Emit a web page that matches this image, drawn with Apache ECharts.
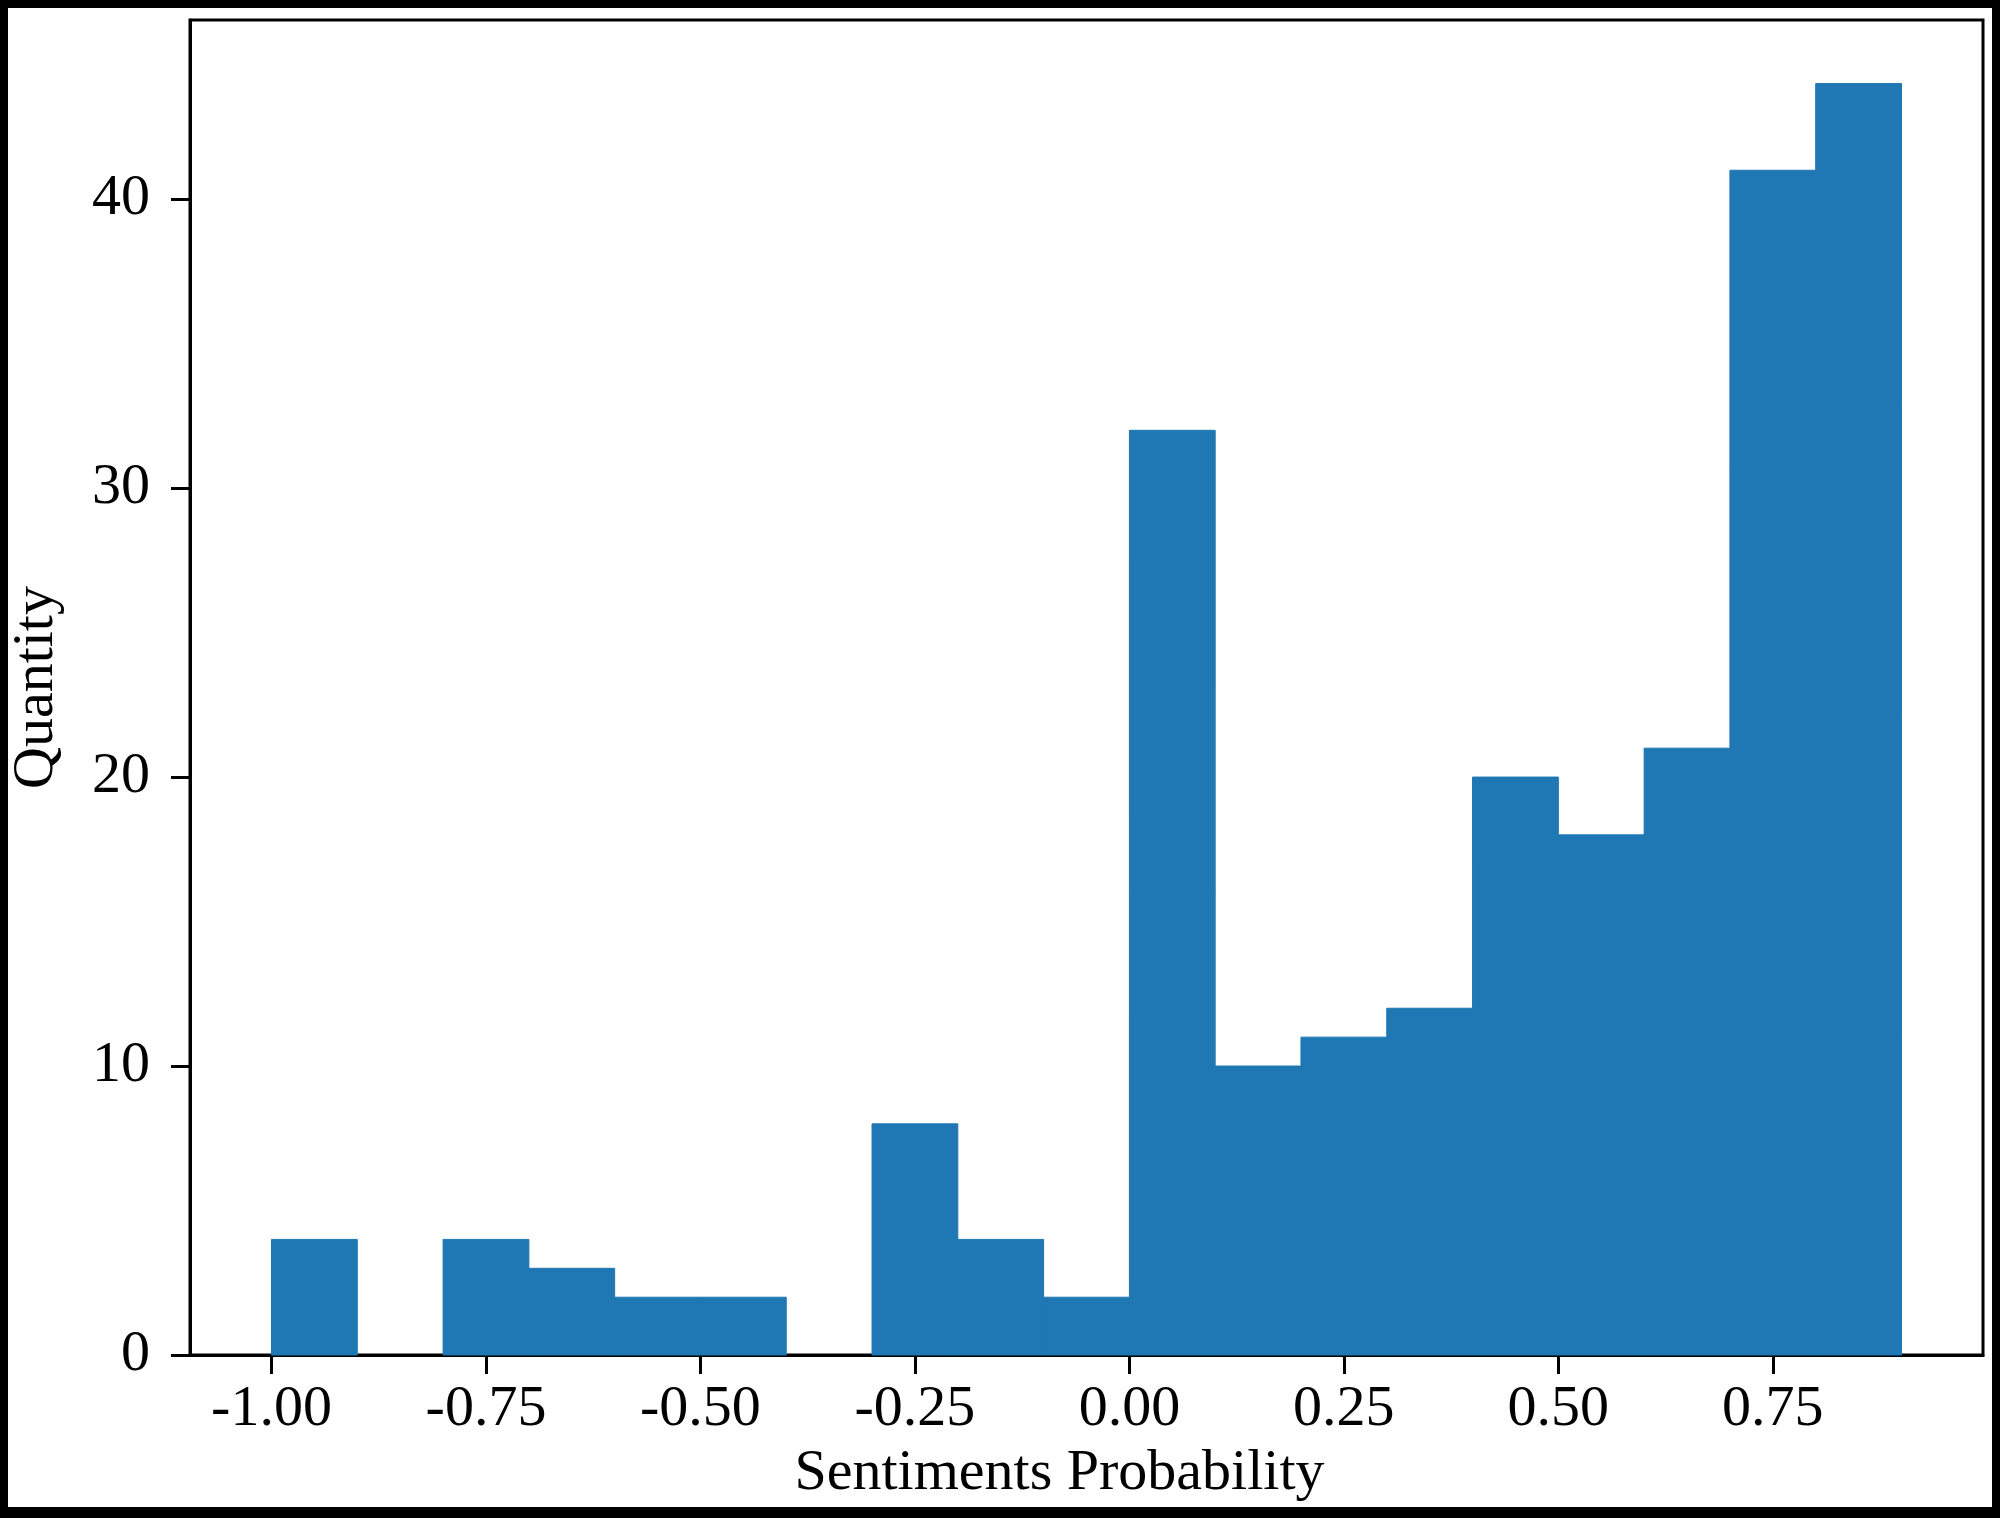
<!DOCTYPE html>
<html>
<head>
<meta charset="utf-8">
<script src="https://cdn.jsdelivr.net/npm/echarts@6/dist/echarts.min.js"></script>
<style>
  html, body { margin: 0; padding: 0; background: #fff; }
  #chart { width: 2000px; height: 1518px; }
</style>
</head>
<body>
<div id="chart"></div>
<script>
// histogram bins (width 0.1) and counts
var binEdges = [-1.0, -0.9, -0.8, -0.7, -0.6, -0.5, -0.4, -0.3, -0.2, -0.1,
  0.0, 0.1, 0.2, 0.3, 0.4, 0.5, 0.6, 0.7, 0.8, 0.9];
var counts = [4, 0, 4, 3, 2, 2, 0, 8, 4, 2, 32, 10, 11, 12, 20, 18, 21, 41, 44];
var xTicks = [-1.0, -0.75, -0.5, -0.25, 0.0, 0.25, 0.5, 0.75];
var yTicks = [0, 10, 20, 30, 40];

var font = "Liberation Serif";
var barColor = "#1f77b4";

// bin rows: [start, end, count]
var bins = counts.map(function (c, i) {
  return [binEdges[i], binEdges[i + 1], c];
});

var chart = echarts.init(document.getElementById("chart"));

var option = {
  animation: false,
  backgroundColor: "#fff",
  grid: {
    left: 187,
    right: 17,
    top: 20,
    bottom: 163,
    show: true,
    borderColor: "#000",
    borderWidth: 3,
    backgroundColor: "transparent"
  },
  xAxis: {
    type: "value",
    min: -1.095,
    max: 0.995,
    name: "Sentiments Probability",
    nameLocation: "middle",
    nameGap: 90,
    nameTextStyle: {
      fontFamily: font,
      fontSize: 58,
      color: "#000",
      padding: [0, 54, 0, 0]
    },
    axisLine: { show: true, onZero: false, lineStyle: { color: "#000", width: 3 } },
    axisTick: {
      show: true,
      length: 19,
      customValues: xTicks,
      lineStyle: { color: "#000", width: 3 }
    },
    axisLabel: {
      customValues: xTicks,
      margin: 26,
      fontFamily: font,
      fontSize: 58,
      color: "#000",
      formatter: function (v) { return v.toFixed(2); }
    },
    splitLine: { show: false }
  },
  yAxis: {
    type: "value",
    min: 0,
    max: 46.2,
    name: "Quantity",
    nameLocation: "middle",
    nameGap: 124,
    nameTextStyle: {
      fontFamily: font,
      fontSize: 58,
      color: "#000"
    },
    axisLine: { show: true, onZero: false, lineStyle: { color: "#000", width: 3 } },
    axisTick: {
      show: true,
      length: 19,
      customValues: yTicks,
      lineStyle: { color: "#000", width: 3 }
    },
    axisLabel: {
      customValues: yTicks,
      margin: 40,
      fontFamily: font,
      fontSize: 58,
      color: "#000"
    },
    splitLine: { show: false }
  },
  series: [
    {
      type: "custom",
      data: bins,
      encode: { x: [0, 1], y: 2 },
      renderItem: function (params, api) {
        if (!api.value(2)) return null;
        var p0 = api.coord([api.value(0), api.value(2)]);
        var p1 = api.coord([api.value(1), 0]);
        return {
          type: "rect",
          shape: { x: p0[0], y: p0[1], width: p1[0] - p0[0], height: p1[1] - p0[1] },
          style: { fill: barColor, stroke: barColor, lineWidth: 1 }
        };
      }
    }
  ],
  // outer black frame of the picture
  graphic: [
    { type: "rect", left: 0, top: 0, shape: { width: 2000, height: 8 }, style: { fill: "#000" } },
    { type: "rect", left: 0, top: 0, shape: { width: 8, height: 1518 }, style: { fill: "#000" } },
    { type: "rect", left: 1992, top: 0, shape: { width: 8, height: 1518 }, style: { fill: "#000" } },
    { type: "rect", left: 0, top: 1507, shape: { width: 2000, height: 11 }, style: { fill: "#000" } }
  ]
};

chart.setOption(option);
</script>
</body>
</html>
